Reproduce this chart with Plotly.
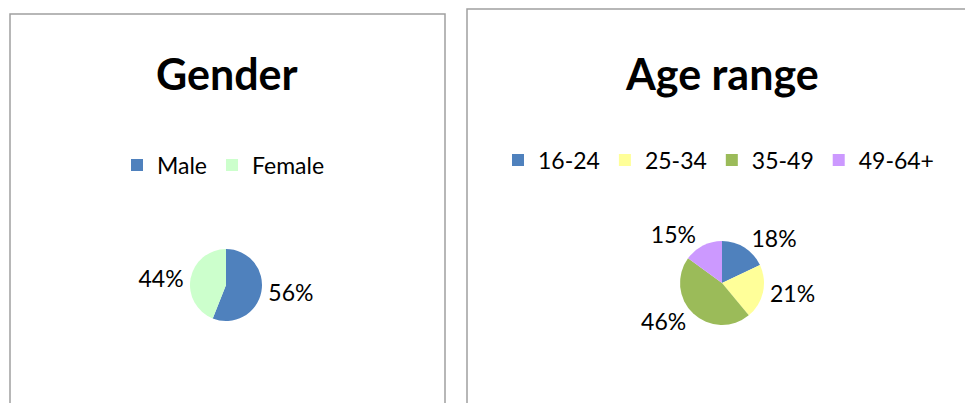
import plotly.graph_objects as go

W, H = 965, 403

gender_labels = ["Male", "Female"]
gender_values = [56, 44]
gender_colors = ["#4F81BD", "#CCFFCC"]

age_labels = ["16-24", "25-34", "35-49", "49-64+"]
age_values = [18, 21, 46, 15]
age_colors = ["#4F81BD", "#FFFF99", "#9BBB59", "#CC99FF"]

FONT = "Lato, 'Open Sans', sans-serif"


def px_x(v):
    return v / W


def px_y(v):
    return 1 - v / H


fig = go.Figure()

fig.add_trace(go.Pie(
    labels=gender_labels, values=gender_values,
    marker=dict(colors=gender_colors, line=dict(width=0)),
    sort=False, direction="clockwise", rotation=0,
    textinfo="percent", textposition="outside",
    texttemplate="%{percent:.0%}",
    textfont=dict(family=FONT, size=23, color="#000000"),
    domain=dict(x=[px_x(190), px_x(262)], y=[px_y(321), px_y(249)]),
    legend="legend", hoverinfo="label+percent",
))

fig.add_trace(go.Pie(
    labels=age_labels, values=age_values,
    marker=dict(colors=age_colors, line=dict(width=0)),
    sort=False, direction="clockwise", rotation=0,
    textinfo="percent", textposition="outside",
    texttemplate="%{percent:.0%}",
    textfont=dict(family=FONT, size=23, color="#000000"),
    domain=dict(x=[px_x(680), px_x(764)], y=[px_y(325), px_y(241)]),
    legend="legend2", hoverinfo="label+percent",
))

legend_common = dict(
    orientation="h", font=dict(family=FONT, size=23, color="#000000"),
    bgcolor="rgba(0,0,0,0)", borderwidth=0, xanchor="left", yanchor="middle",
    itemclick=False, itemdoubleclick=False, tracegroupgap=0,
)

fig.update_layout(
    width=W, height=H,
    margin=dict(l=0, r=0, t=0, b=0),
    paper_bgcolor="white", plot_bgcolor="white",
    showlegend=True,
    legend=dict(x=px_x(117), y=px_y(165), **legend_common),
    legend2=dict(x=px_x(498), y=px_y(160), **legend_common),
    shapes=[
        dict(type="rect", xref="paper", yref="paper",
             x0=px_x(10), x1=px_x(445), y0=px_y(420), y1=px_y(14),
             line=dict(color="#A0A0A0", width=1.5), fillcolor="rgba(0,0,0,0)"),
        dict(type="rect", xref="paper", yref="paper",
             x0=px_x(467), x1=px_x(980), y0=px_y(420), y1=px_y(9),
             line=dict(color="#A0A0A0", width=1.5), fillcolor="rgba(0,0,0,0)"),
    ],
    annotations=[
        dict(text="<b>Gender</b>", x=px_x(227), y=px_y(73), xref="paper", yref="paper",
             showarrow=False, font=dict(family=FONT, size=43, color="#000000"),
             xanchor="center", yanchor="middle"),
        dict(text="<b>Age range</b>", x=px_x(722), y=px_y(73), xref="paper", yref="paper",
             showarrow=False, font=dict(family=FONT, size=43, color="#000000"),
             xanchor="center", yanchor="middle"),
    ],
)

fig.write_html(
    "out.html",
    config={"displayModeBar": False},
    post_script="document.body.style.margin='0';document.body.style.overflow='hidden';",
)
